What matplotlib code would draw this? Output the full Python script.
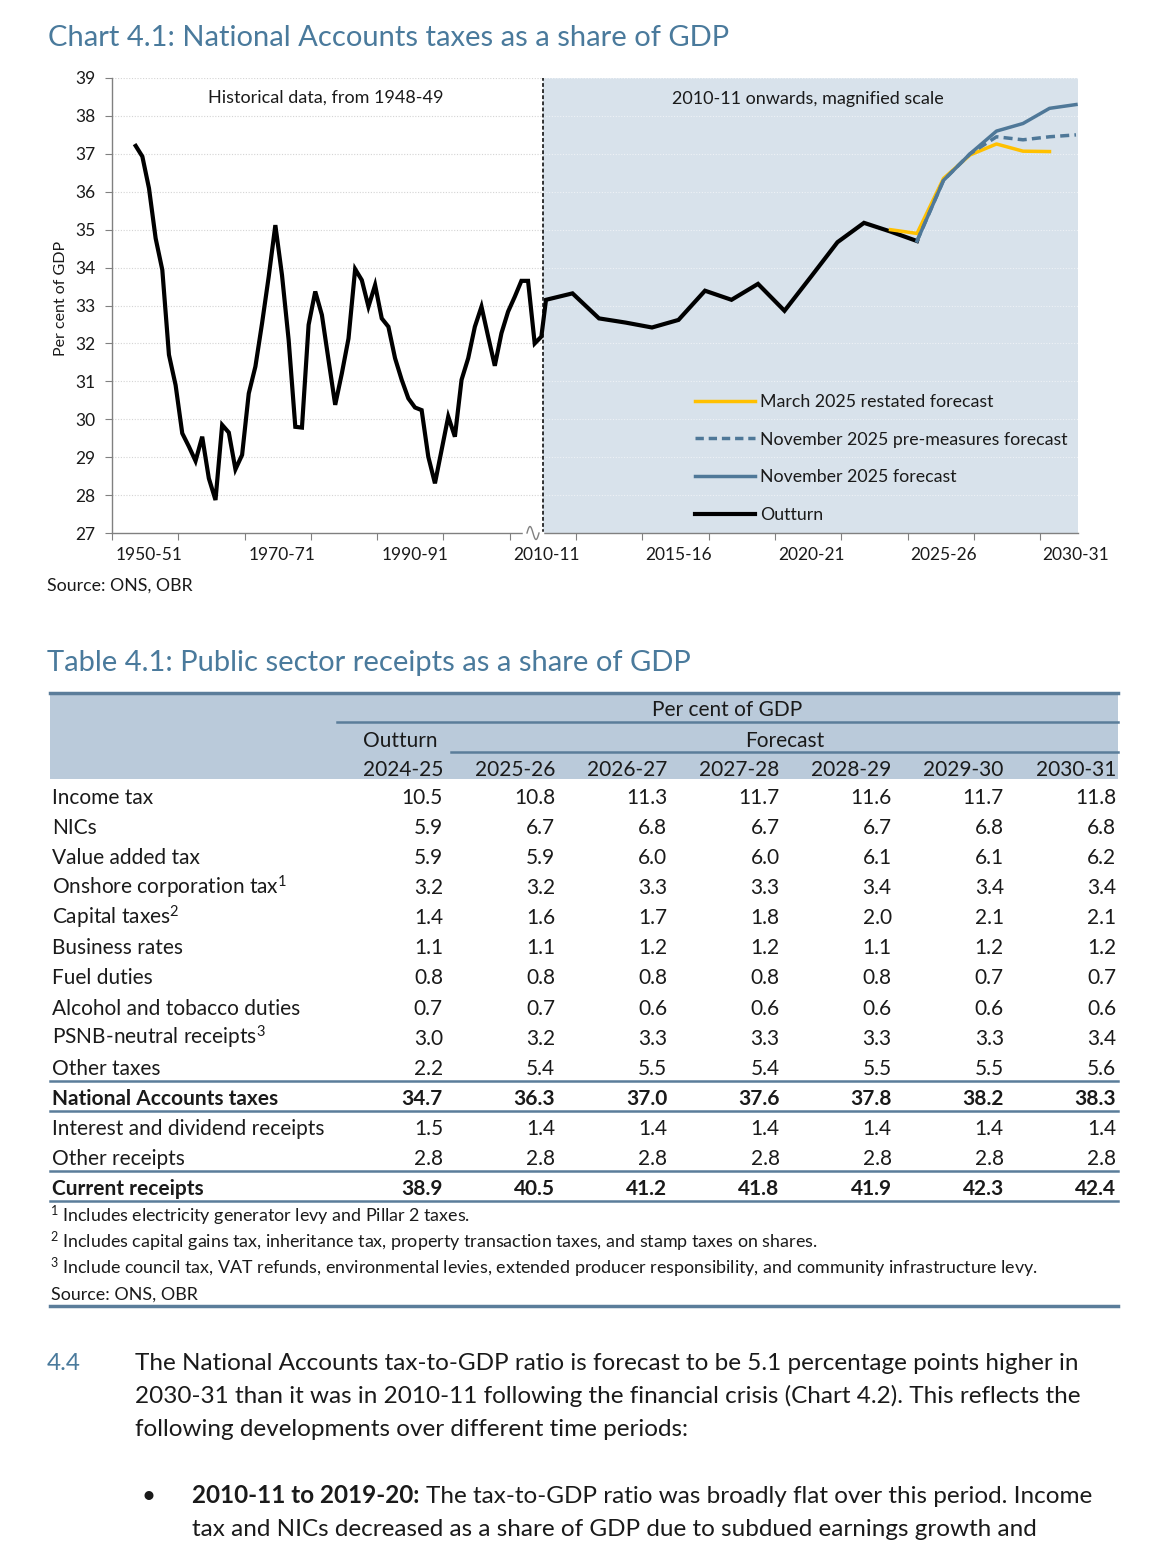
import numpy as np
import matplotlib
matplotlib.use("Agg")
import matplotlib.pyplot as plt
from matplotlib.ticker import FixedLocator, NullFormatter, FixedFormatter
from matplotlib.lines import Line2D
from matplotlib.patches import Rectangle

plt.rcParams['font.family'] = ['Lato', 'DejaVu Sans']
plt.rcParams['mathtext.fontset'] = 'custom'
plt.rcParams['mathtext.rm'] = 'Lato'
plt.rcParams['mathtext.bf'] = 'Lato:bold'
plt.rcParams['mathtext.it'] = 'Lato:italic'

# ---------------- data: chart ----------------
hist_years = list(range(1948, 2010))
hist_values = [37.21, 36.93, 36.09, 34.77, 33.94, 31.70, 30.90, 29.63, 29.28, 28.90,
               29.54, 28.44, 27.87, 29.85, 29.65, 28.68, 29.06, 30.68, 31.39, 32.53,
               33.76, 35.12, 33.80, 32.09, 29.80, 29.78, 32.49, 33.37, 32.75, 31.56,
               30.38, 31.21, 32.13, 33.96, 33.67, 32.97, 33.54, 32.66, 32.44, 31.61,
               31.04, 30.55, 30.31, 30.24, 29.01, 28.31, 29.19, 30.07, 29.54, 31.04,
               31.61, 32.44, 32.97, 32.18, 31.41, 32.27, 32.84, 33.23, 33.65, 33.65,
               32.00, 32.18]
recent_years = list(range(2010, 2025))
recent_values = [33.15, 33.32, 32.66, 32.55, 32.42, 32.62, 33.39, 33.15, 33.57, 32.86,
                 33.76, 34.67, 35.18, 34.95, 34.70]
march_years = list(range(2023, 2030))
march_values = [35.00, 34.90, 36.35, 36.97, 37.26, 37.07, 37.06]
nov_years = list(range(2024, 2031))
nov_values = [34.7, 36.3, 37.0, 37.6, 37.8, 38.2, 38.3]
pre_years = list(range(2024, 2031))
pre_values = [34.7, 36.3, 37.0, 37.45, 37.37, 37.45, 37.5]

label_years = [1950, 1970, 1990, 2010, 2015, 2020, 2025, 2030]
label_text = ['1950-51', '1970-71', '1990-91', '2010-11', '2015-16', '2020-21', '2025-26', '2030-31']
y_ticks = list(range(27, 40))
series_names = ['March 2025 restated forecast', 'November 2025 pre-measures forecast',
                'November 2025 forecast', 'Outturn']

# ---------------- data: table ----------------
col_years = ['2024-25', '2025-26', '2026-27', '2027-28', '2028-29', '2029-30', '2030-31']
row_labels = ['Income tax', 'NICs', 'Value added tax', r'Onshore corporation tax$^{1}$',
              r'Capital taxes$^{2}$', 'Business rates', 'Fuel duties', 'Alcohol and tobacco duties',
              r'PSNB-neutral receipts$^{3}$', 'Other taxes', 'National Accounts taxes',
              'Interest and dividend receipts', 'Other receipts', 'Current receipts']
income_tax = [10.5, 10.8, 11.3, 11.7, 11.6, 11.7, 11.8]
nics = [5.9, 6.7, 6.8, 6.7, 6.7, 6.8, 6.8]
vat = [5.9, 5.9, 6.0, 6.0, 6.1, 6.1, 6.2]
onshore_ct = [3.2, 3.2, 3.3, 3.3, 3.4, 3.4, 3.4]
capital_taxes = [1.4, 1.6, 1.7, 1.8, 2.0, 2.1, 2.1]
business_rates = [1.1, 1.1, 1.2, 1.2, 1.1, 1.2, 1.2]
fuel_duties = [0.8, 0.8, 0.8, 0.8, 0.8, 0.7, 0.7]
alcohol_tobacco = [0.7, 0.7, 0.6, 0.6, 0.6, 0.6, 0.6]
psnb_neutral = [3.0, 3.2, 3.3, 3.3, 3.3, 3.3, 3.4]
other_taxes = [2.2, 5.4, 5.5, 5.4, 5.5, 5.5, 5.6]
na_taxes = [34.7, 36.3, 37.0, 37.6, 37.8, 38.2, 38.3]
interest_dividend = [1.5, 1.4, 1.4, 1.4, 1.4, 1.4, 1.4]
other_receipts = [2.8, 2.8, 2.8, 2.8, 2.8, 2.8, 2.8]
current_receipts = [38.9, 40.5, 41.2, 41.8, 41.9, 42.3, 42.4]
table_values = [income_tax, nics, vat, onshore_ct, capital_taxes, business_rates, fuel_duties,
                alcohol_tobacco, psnb_neutral, other_taxes, na_taxes, interest_dividend,
                other_receipts, current_receipts]
bold_rows = {'National Accounts taxes', 'Current receipts'}
footnotes = [r'$^{1}$ Includes electricity generator levy and Pillar 2 taxes.',
             r'$^{2}$ Includes capital gains tax, inheritance tax, property transaction taxes, and stamp taxes on shares.',
             r'$^{3}$ Include council tax, VAT refunds, environmental levies, extended producer responsibility, and community infrastructure levy.',
             'Source: ONS, OBR']

# ---------------- styles ----------------
TITLE_C = '#4A7A9C'
TEXT_C = '#1a1a1a'
SHADE = '#D8E2EB'
YELLOW = '#FFC000'
BLUE = '#4F7898'
SPINE = '#808080'
HEADER = '#BACADA'
RULE = '#5B7D9A'

W, H = 1170, 1559
fig = plt.figure(figsize=(W / 100, H / 100), dpi=100)
axp = fig.add_axes([0, 0, 1, 1])
axp.set_xlim(0, W)
axp.set_ylim(H, 0)
axp.axis('off')

# ---------------- chart ----------------
L, R, T, B = 112, 1078, 78, 533
ax = fig.add_axes([L / W, 1 - B / H, (R - L) / W, (B - T) / H])
ax.patch.set_alpha(0)

K_YEAR = np.array([1800.0, 2009.0, 2010.0, 2200.0])
K_PX = np.array([149 + (1800 - 1950) * 6.65, 149 + 59 * 6.65, 546.0, 546 + 190 * 26.5])


def fwd(v):
    return np.interp(v, K_YEAR, K_PX)


def inv(p):
    return np.interp(p, K_PX, K_YEAR)


ax.set_xscale('function', functions=(fwd, inv))
x0, x1 = float(inv(L)), float(inv(R))
ax.set_xlim(x0, x1)
ax.set_ylim(27, 39)
div = float(inv(543))

ax.axvspan(div, x1, color=SHADE, lw=0, zorder=0.1)
ax.hlines(y_ticks[1:-1] + [39], x0, div, colors='#d4d4d4', linestyles=(0, (1, 1.5)), lw=0.8, zorder=0.2)
ax.hlines(y_ticks[1:-1] + [39], div, x1, colors='#eef2f6', linestyles=(0, (1, 1.5)), lw=0.8, zorder=0.2)
ax.axvline(div, color='black', ls=(0, (2.5, 1.5)), lw=1.1, zorder=2)

out_years = hist_years + recent_years
out_values = hist_values + recent_values
ax.plot(out_years, out_values, color='black', lw=3.0, zorder=3, solid_joinstyle='miter')
ax.plot(march_years, march_values, color=YELLOW, lw=2.5, zorder=4)
ax.plot(nov_years, nov_values, color=BLUE, lw=2.5, zorder=5)
ax.plot(pre_years, pre_values, color=BLUE, lw=2.5, ls=(0, (2.6, 1.5)), zorder=6)

for s in ['top', 'right']:
    ax.spines[s].set_visible(False)
for s in ['left', 'bottom']:
    ax.spines[s].set_color(SPINE)
    ax.spines[s].set_linewidth(1.0)

ax.set_yticks(y_ticks)
ax.tick_params(axis='y', length=5, color=SPINE, pad=7, labelsize=12.5, labelcolor=TEXT_C)
tick_years = inv(L + 66.3 * np.arange(15))
ax.xaxis.set_major_locator(FixedLocator(tick_years))
ax.xaxis.set_major_formatter(NullFormatter())
ax.xaxis.set_minor_locator(FixedLocator(label_years))
ax.xaxis.set_minor_formatter(FixedFormatter(label_text))
ax.tick_params(axis='x', which='major', length=5, color=SPINE)
ax.tick_params(axis='x', which='minor', length=0, pad=10, labelsize=12.5, labelcolor=TEXT_C)

# axis break squiggle
t = np.linspace(0, 1, 40)
ax.plot([524, 542], [B, B], color='white', lw=2.5, transform=axp.transData, clip_on=False, zorder=7)
ax.plot(527 + 12 * t, B - 6.5 * np.sin(2 * np.pi * t), color=SPINE, lw=1.0,
        transform=axp.transData, clip_on=False, zorder=8)

handles = [Line2D([], [], color=YELLOW, lw=2.5),
           Line2D([], [], color=BLUE, lw=2.5, ls=(0, (2.4, 1.4))),
           Line2D([], [], color=BLUE, lw=2.5),
           Line2D([], [], color='black', lw=3.0)]
ax.legend(handles, series_names, loc='upper left', bbox_to_anchor=(695, 394),
          bbox_transform=axp.transData, frameon=False, fontsize=12.8, handlelength=3.4,
          handletextpad=0.28, labelspacing=1.22, borderpad=0, borderaxespad=0,
          labelcolor=TEXT_C)

ax.text(326, 98, 'Historical data, from 1948-49', fontsize=13, ha='center', va='center',
        color=TEXT_C, transform=axp.transData, zorder=9)
ax.text(808, 99, '2010-11 onwards, magnified scale', fontsize=13, ha='center', va='center',
        color=TEXT_C, transform=axp.transData, zorder=9)

axp.text(48, 46, 'Chart 4.1: National Accounts taxes as a share of GDP', fontsize=21,
         color=TITLE_C, va='baseline')
axp.text(61, 298, 'Per cent of GDP', fontsize=11.5, rotation=90, ha='center', va='center', color=TEXT_C)
axp.text(47, 591, 'Source: ONS, OBR', fontsize=12.8, va='baseline', color=TEXT_C)

# ---------------- table ----------------
axp.text(47, 671, 'Table 4.1: Public sector receipts as a share of GDP', fontsize=21,
         color=TITLE_C, va='baseline')
TL, TR = 50, 1118
axp.add_patch(Rectangle((TL, 693), TR - TL, 86, facecolor=HEADER, edgecolor='none', zorder=0))
axp.plot([TL, TR], [693, 693], color=RULE, lw=2.5)
axp.plot([337, TR], [722, 722], color=RULE, lw=1.8)
axp.plot([451, TR], [752, 752], color=RULE, lw=1.8)
TFS = 15
axp.text(727, 716, 'Per cent of GDP', fontsize=TFS, ha='center', va='baseline', color=TEXT_C)
axp.text(400, 747, 'Outturn', fontsize=TFS, ha='center', va='baseline', color=TEXT_C)
axp.text(785, 747, 'Forecast', fontsize=TFS, ha='center', va='baseline', color=TEXT_C)
col_right = [443 + 112.17 * i for i in range(len(col_years))]
for cx, cy in zip(col_right, col_years):
    axp.text(cx, 776, cy, fontsize=TFS, ha='right', va='baseline', color=TEXT_C)

row_y0, row_dy = 796, 30.08
for i, (lab, vals) in enumerate(zip(row_labels, table_values)):
    yb = row_y0 + i * row_dy + 8
    fw = 'bold' if lab in bold_rows else 'normal'
    axp.text(52, yb, lab, fontsize=TFS, ha='left', va='baseline', color=TEXT_C, fontweight=fw)
    for cx, v in zip(col_right, vals):
        axp.text(cx, yb, f'{v:.1f}', fontsize=TFS, ha='right', va='baseline', color=TEXT_C, fontweight=fw)

for yl, lw in [(1081, 1.8), (1111, 1.8), (1171, 1.8), (1201, 1.8), (1306, 2.5)]:
    axp.plot([TL, TR], [yl, yl], color=RULE, lw=lw)

for i, fn in enumerate(footnotes):
    axp.text(50 if i < 3 else 51, 1222 + i * 26, fn, fontsize=12.9, va='baseline', color=TEXT_C)

# ---------------- paragraph ----------------
PFS = 17.5
axp.text(47, 1370, '4.4', fontsize=PFS, color=TITLE_C, va='baseline')
para = ['The National Accounts tax-to-GDP ratio is forecast to be 5.1 percentage points higher in',
        '2030-31 than it was in 2010-11 following the financial crisis (Chart 4.2). This reflects the',
        'following developments over different time periods:']
for i, line in enumerate(para):
    axp.text(135, 1370 + i * 33, line, fontsize=PFS, va='baseline', color=TEXT_C)
axp.text(142, 1503, '\u2022', fontsize=PFS, va='baseline', color=TEXT_C)
bold_part = axp.text(192, 1503, '2010-11 to 2019-20:', fontsize=PFS, fontweight='bold',
                     va='baseline', color=TEXT_C)
axp.annotate('The tax-to-GDP ratio was broadly flat over this period. Income', xy=(1, 0),
             xycoords=bold_part, xytext=(4.5, 0), textcoords='offset points',
             fontsize=PFS, va='bottom', ha='left', color=TEXT_C)
axp.text(192, 1536, 'tax and NICs decreased as a share of GDP due to subdued earnings growth and',
         fontsize=PFS, va='baseline', color=TEXT_C)

fig.savefig('out.png', dpi=100, facecolor='white')
